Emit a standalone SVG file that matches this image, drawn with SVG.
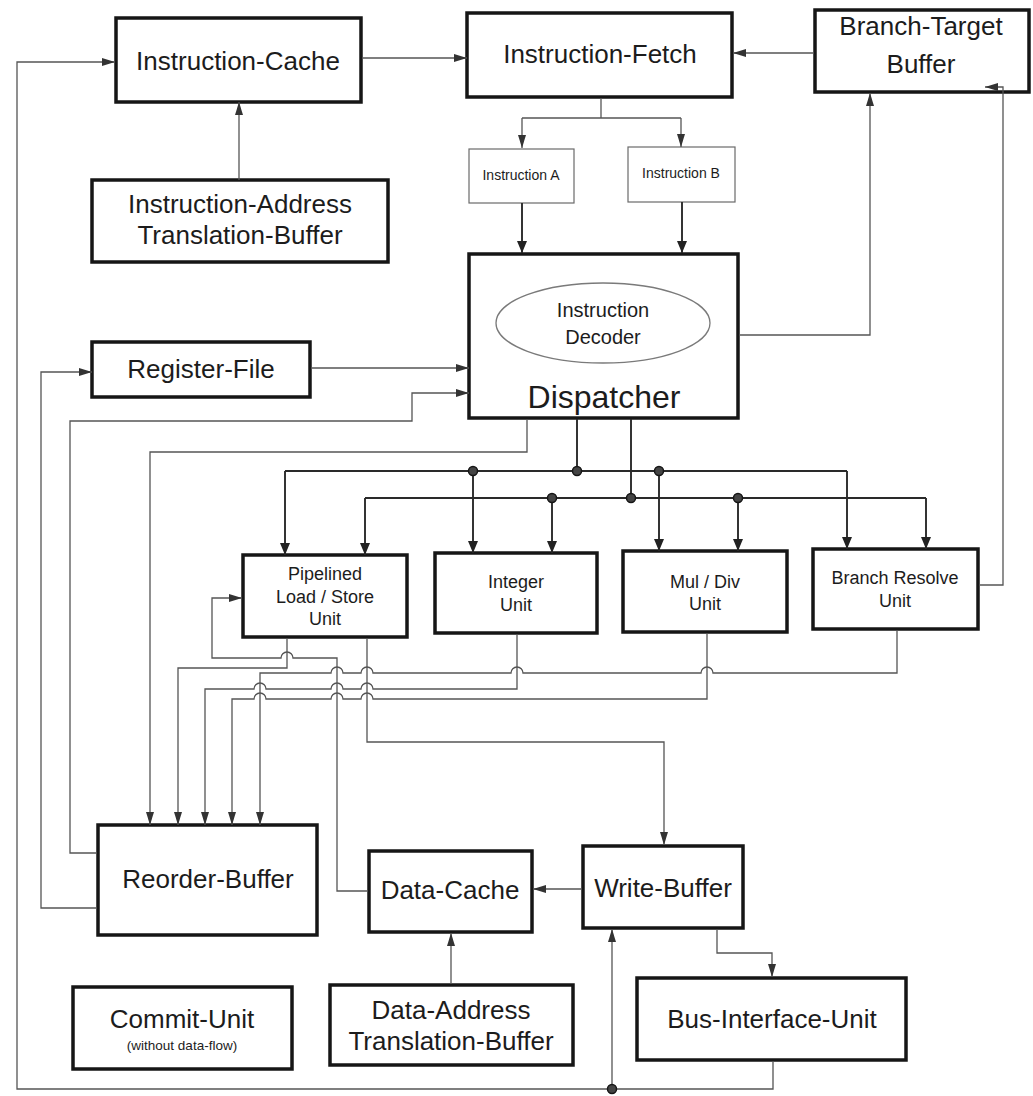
<svg xmlns="http://www.w3.org/2000/svg" width="1033" height="1096" viewBox="0 0 1033 1096">
  <defs>
    <style>
      .box { fill: #fff; stroke: #161616; stroke-width: 3.5; }
      .thin { fill: #fff; stroke: #6a6a6a; stroke-width: 1.2; }
      .oval { fill: none; stroke: #7a7a7a; stroke-width: 1.3; }
      .lbl { font-family: "Liberation Sans", Arial, sans-serif; fill: #1c1c1c; text-anchor: middle; }
      .big { font-size: 26px; }
      .mid { font-size: 18px; }
      .sm { font-size: 14px; }
      .wire { fill: none; stroke: #555; stroke-width: 1.3; }
      .bus { fill: none; stroke: #2a2a2a; stroke-width: 1.9; }
      .dot { fill: #444; stroke: #161616; stroke-width: 1.5; }
    </style>
    <marker id="arr" viewBox="0 0 13 8" refX="13" refY="4" markerWidth="13" markerHeight="8" orient="auto" markerUnits="userSpaceOnUse">
      <path d="M0,0 L13,4 L0,8 z" fill="#333"/>
    </marker>
    <marker id="arrB" viewBox="0 0 12 10" refX="12" refY="5" markerWidth="12" markerHeight="10" orient="auto" markerUnits="userSpaceOnUse">
      <path d="M0,0 L12,5 L0,10 z" fill="#222"/>
    </marker>
  </defs>

  <!-- nodes -->
  <g id="instruction-cache">
    <rect class="box" x="116" y="18" width="245" height="84"/>
    <text class="lbl big" x="238" y="70">Instruction-Cache</text>
  </g>
  <g id="instruction-fetch">
    <rect class="box" x="467" y="13" width="265" height="84"/>
    <text class="lbl big" x="600" y="63">Instruction-Fetch</text>
  </g>
  <g id="branch-target-buffer">
    <rect class="box" x="815" y="10" width="214" height="82"/>
    <text class="lbl big" x="921" y="35">Branch-Target</text>
    <text class="lbl big" x="921" y="73">Buffer</text>
  </g>
  <g id="instruction-atb">
    <rect class="box" x="92" y="180" width="296" height="82"/>
    <text class="lbl big" x="240" y="213">Instruction-Address</text>
    <text class="lbl big" x="240" y="244">Translation-Buffer</text>
  </g>
  <g id="instruction-a">
    <rect class="thin" x="469" y="149" width="105" height="54"/>
    <text class="lbl sm" x="521" y="180">Instruction A</text>
  </g>
  <g id="instruction-b">
    <rect class="thin" x="628" y="147" width="107" height="55"/>
    <text class="lbl sm" x="681" y="178">Instruction B</text>
  </g>
  <g id="register-file">
    <rect class="box" x="92" y="342" width="218" height="55"/>
    <text class="lbl big" x="201" y="378">Register-File</text>
  </g>
  <g id="dispatcher">
    <rect class="box" x="469" y="254" width="269" height="164"/>
    <ellipse class="oval" cx="603" cy="323" rx="107" ry="40"/>
    <text class="lbl" font-size="20" x="603" y="317">Instruction</text>
    <text class="lbl" font-size="20" x="603" y="344">Decoder</text>
    <text class="lbl" font-size="32" x="604" y="408">Dispatcher</text>
  </g>
  <g id="load-store-unit">
    <rect class="box" x="243" y="555" width="164" height="82"/>
    <text class="lbl mid" x="325" y="580">Pipelined</text>
    <text class="lbl mid" x="325" y="603">Load / Store</text>
    <text class="lbl mid" x="325" y="625">Unit</text>
  </g>
  <g id="integer-unit">
    <rect class="box" x="435" y="553" width="162" height="80"/>
    <text class="lbl mid" x="516" y="588">Integer</text>
    <text class="lbl mid" x="516" y="611">Unit</text>
  </g>
  <g id="mul-div-unit">
    <rect class="box" x="623" y="551" width="164" height="81"/>
    <text class="lbl mid" x="705" y="588">Mul / Div</text>
    <text class="lbl mid" x="705" y="610">Unit</text>
  </g>
  <g id="branch-resolve-unit">
    <rect class="box" x="813" y="549" width="165" height="80"/>
    <text class="lbl mid" x="895" y="584">Branch Resolve</text>
    <text class="lbl mid" x="895" y="607">Unit</text>
  </g>
  <g id="reorder-buffer">
    <rect class="box" x="98" y="825" width="219" height="110"/>
    <text class="lbl big" x="208" y="888">Reorder-Buffer</text>
  </g>
  <g id="data-cache">
    <rect class="box" x="369" y="851" width="163" height="81"/>
    <text class="lbl big" x="450" y="899">Data-Cache</text>
  </g>
  <g id="write-buffer">
    <rect class="box" x="583" y="846" width="160" height="82"/>
    <text class="lbl big" x="663" y="897">Write-Buffer</text>
  </g>
  <g id="commit-unit">
    <rect class="box" x="73" y="987" width="219" height="82"/>
    <text class="lbl big" x="182" y="1028">Commit-Unit</text>
    <text class="lbl" font-size="13.5" x="182" y="1050">(without data-flow)</text>
  </g>
  <g id="data-atb">
    <rect class="box" x="330" y="985" width="243" height="80"/>
    <text class="lbl big" x="451" y="1019">Data-Address</text>
    <text class="lbl big" x="451" y="1050">Translation-Buffer</text>
  </g>
  <g id="bus-interface-unit">
    <rect class="box" x="637" y="978" width="269" height="82"/>
    <text class="lbl big" x="772" y="1028">Bus-Interface-Unit</text>
  </g>

  <!-- connectors -->
  <g id="connectors">
    <!-- front end -->
    <path class="wire" d="M362 58 H467" marker-end="url(#arr)"/>
    <path class="wire" d="M239 180 V102" marker-end="url(#arr)"/>
    <path class="wire" d="M814 53 H733" marker-end="url(#arr)"/>
    <path class="wire" d="M601 98 V118"/>
    <path class="wire" d="M522 118 H681"/>
    <path class="wire" d="M522 118 V148" marker-end="url(#arr)"/>
    <path class="wire" d="M681 118 V147" marker-end="url(#arr)"/>
    <path class="bus" d="M522 203 V253" marker-end="url(#arrB)"/>
    <path class="bus" d="M682 202 V253" marker-end="url(#arrB)"/>

    <!-- dispatcher to branch-target buffer -->
    <path class="wire" d="M739 335 H870 V93" marker-end="url(#arr)"/>
    <!-- branch resolve back to branch-target buffer -->
    <path class="wire" d="M979 585 H1003 V87 H985" marker-end="url(#arr)"/>

    <!-- register file and reorder buffer into dispatcher -->
    <path class="wire" d="M311 368 H469" marker-end="url(#arr)"/>
    <path class="wire" d="M97 853 H70 V421 H412 V393 H469" marker-end="url(#arr)"/>
    <path class="wire" d="M97 908 H41 V372 H92" marker-end="url(#arr)"/>

    <!-- dispatcher straight to reorder buffer -->
    <path class="wire" d="M527 419 V452 H150 V825" marker-end="url(#arr)"/>

    <!-- dispatch buses -->
    <path class="bus" d="M577 419 V471"/>
    <path class="bus" d="M631 419 V498"/>
    <path class="bus" d="M285 471 H847"/>
    <path class="bus" d="M365 498 H926"/>
    <path class="bus" d="M285 471 V555" marker-end="url(#arrB)"/>
    <path class="bus" d="M473 471 V553" marker-end="url(#arrB)"/>
    <path class="bus" d="M659 471 V551" marker-end="url(#arrB)"/>
    <path class="bus" d="M847 471 V549" marker-end="url(#arrB)"/>
    <path class="bus" d="M365 498 V555" marker-end="url(#arrB)"/>
    <path class="bus" d="M552 498 V553" marker-end="url(#arrB)"/>
    <path class="bus" d="M738 498 V551" marker-end="url(#arrB)"/>
    <path class="bus" d="M926 498 V549" marker-end="url(#arrB)"/>

    <!-- result paths to reorder buffer (hops where they pass over vertical lines) -->
    <path class="wire" d="M287 638 V668 H178 V825" marker-end="url(#arr)"/>
    <path class="wire" d="M897 630 V673 H713 A6 6 0 0 0 701 673 H523 A6 6 0 0 0 511 673 H373 A6 6 0 0 0 361 673 H343 A6 6 0 0 0 331 673 H260 V825" marker-end="url(#arr)"/>
    <path class="wire" d="M517 634 V689 H373 A6 6 0 0 0 361 689 H343 A6 6 0 0 0 331 689 H266 A6 6 0 0 0 254 689 H205 V825" marker-end="url(#arr)"/>
    <path class="wire" d="M707 633 V699 H373 A6 6 0 0 0 361 699 H343 A6 6 0 0 0 331 699 H266 A6 6 0 0 0 254 699 H232 V825" marker-end="url(#arr)"/>

    <!-- data cache back to load/store -->
    <path class="wire" d="M368 891 H337 V658 H293 A6 6 0 0 0 281 658 H212 V598 H242" marker-end="url(#arr)"/>
    <!-- load/store to write buffer -->
    <path class="wire" d="M367 638 V742 H664 V845" marker-end="url(#arr)"/>

    <!-- memory side -->
    <path class="wire" d="M582 889 H533" marker-end="url(#arr)"/>
    <path class="wire" d="M717 929 V953 H772 V977" marker-end="url(#arr)"/>
    <path class="wire" d="M451 984 V933" marker-end="url(#arr)"/>
    <path class="wire" d="M773 1061 V1089 H17 V62 H115" marker-end="url(#arr)"/>
    <path class="wire" d="M612 1089 V929" marker-end="url(#arr)"/>

    <!-- junction dots -->
    <circle class="dot" cx="577" cy="471" r="4.5"/>
    <circle class="dot" cx="473" cy="471" r="4.5"/>
    <circle class="dot" cx="659" cy="471" r="4.5"/>
    <circle class="dot" cx="631" cy="498" r="4.5"/>
    <circle class="dot" cx="552" cy="498" r="4.5"/>
    <circle class="dot" cx="738" cy="498" r="4.5"/>
    <circle class="dot" cx="612" cy="1089" r="4.5"/>
  </g>
</svg>
